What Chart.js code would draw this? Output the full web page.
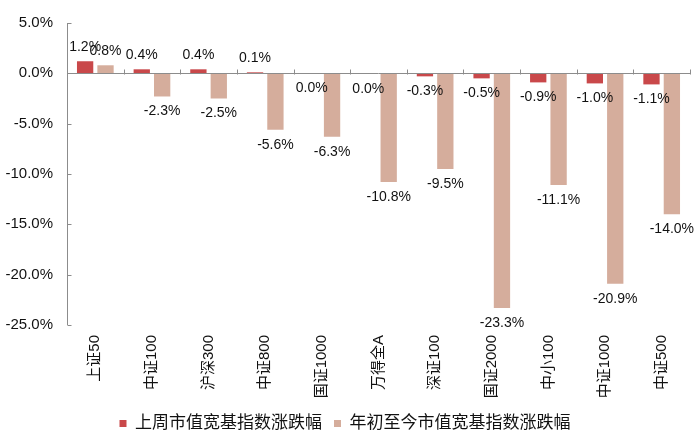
<!DOCTYPE html>
<html>
<head>
<meta charset="utf-8">
<script src="https://cdn.jsdelivr.net/npm/chart.js@4/dist/chart.umd.min.js"></script>
<style>
  html, body { margin: 0; padding: 0; background: #fff; }
  #wrap { width: 700px; height: 447px; }
</style>
</head>
<body>
<div id="wrap"><canvas id="chart"></canvas></div>
<script>
// Data
const categories = ['上证50', '中证100', '沪深300', '中证800', '国证1000', '万得全A', '深证100', '国证2000', '中小100', '中证1000', '中证500'];
const weekChange = [1.2, 0.4, 0.4, 0.1, -0.02, -0.04, -0.3, -0.5, -0.9, -1.0, -1.1];
const ytdChange = [0.8, -2.3, -2.5, -5.6, -6.3, -10.8, -9.5, -23.3, -11.1, -20.9, -14.0];
const seriesNames = ['上周市值宽基指数涨跌幅', '年初至今市值宽基指数涨跌幅'];
const yTicks = [5, 0, -5, -10, -15, -20, -25];

const FONT = "'Liberation Sans', Arial, 'Noto Sans CJK SC', sans-serif";

// draws the zero axis line with tick marks, y ticks inside, and value labels
const decorPlugin = {
    id: 'decor',
    afterDatasetsDraw(chart) {
        const ctx = chart.ctx;
        const x = chart.scales.x;
        const y = chart.scales.y;
        const area = chart.chartArea;
        const y0 = Math.round(y.getPixelForValue(0)) + 0.5;

        ctx.save();
        ctx.strokeStyle = '#8c8c8c';
        ctx.lineWidth = 1;
        // zero line
        ctx.beginPath();
        ctx.moveTo(area.left, y0);
        ctx.lineTo(area.right, y0);
        ctx.stroke();
        // category boundary ticks
        for (let i = 0; i <= categories.length; i++) {
            const px = Math.round(x.getPixelForValue(i - 0.5)) + 0.5;
            ctx.beginPath();
            ctx.moveTo(px, y0 - 4);
            ctx.lineTo(px, y0 + 1);
            ctx.stroke();
        }
        // y axis line and ticks
        const ax = Math.round(area.left) + 0.5;
        ctx.beginPath();
        ctx.moveTo(ax, y.getPixelForValue(5));
        ctx.lineTo(ax, y.getPixelForValue(-25));
        ctx.stroke();
        yTicks.forEach(v => {
            const py = Math.round(y.getPixelForValue(v)) + 0.5;
            ctx.beginPath();
            ctx.moveTo(ax, py);
            ctx.lineTo(ax + 4, py);
            ctx.stroke();
        });

        // value labels
        ctx.fillStyle = '#111';
        ctx.font = '14px ' + FONT;
        ctx.textAlign = 'center';
        chart.data.datasets.forEach((ds, di) => {
            const meta = chart.getDatasetMeta(di);
            meta.data.forEach((bar, i) => {
                const v = ds.data[i];
                const txt = v.toFixed(1) + '%';
                const label = (txt === '-0.0%') ? '0.0%' : txt;
                if (v >= 0) {
                    ctx.textBaseline = 'alphabetic';
                    ctx.fillText(label, bar.x, bar.y - 10);
                } else {
                    ctx.textBaseline = 'top';
                    ctx.fillText(label, bar.x, Math.max(bar.y, y0) + 8);
                }
            });
        });
        ctx.restore();
    }
};

new Chart(document.getElementById('chart'), {
    type: 'bar',
    data: {
        labels: categories,
        datasets: [
            {
                label: seriesNames[0],
                data: weekChange,
                backgroundColor: '#C9484A',
                categoryPercentage: 0.72,
                barPercentage: 0.8
            },
            {
                label: seriesNames[1],
                data: ytdChange,
                backgroundColor: '#D5AD9C',
                categoryPercentage: 0.72,
                barPercentage: 0.8
            }
        ]
    },
    options: {
        responsive: true,
        maintainAspectRatio: false,
        animation: false,
        layout: { padding: { top: 19, right: 10, left: 0, bottom: 5 } },
        plugins: {
            legend: {
                position: 'bottom',
                labels: {
                    boxWidth: 7,
                    boxHeight: 7,
                    padding: 12,
                    color: '#111',
                    font: { size: 17, family: FONT }
                }
            },
            tooltip: { enabled: false }
        },
        scales: {
            x: {
                afterFit(scale) { scale.height = 78; },
                grid: { display: false, drawTicks: false },
                border: { display: false },
                ticks: {
                    minRotation: 90,
                    maxRotation: 90,
                    padding: 10,
                    color: '#111',
                    font: { size: 15, family: FONT }
                }
            },
            y: {
                min: -25,
                max: 5,
                afterFit(scale) { scale.width = 67; },
                afterBuildTicks(scale) {
                    scale.ticks = yTicks.map(v => ({ value: v }));
                },
                grid: { display: false, drawTicks: false },
                border: { display: false },
                ticks: {
                    padding: 14,
                    color: '#111',
                    font: { size: 15, family: FONT },
                    callback: v => v.toFixed(1) + '%'
                }
            }
        }
    },
    plugins: [decorPlugin]
});
</script>
</body>
</html>
